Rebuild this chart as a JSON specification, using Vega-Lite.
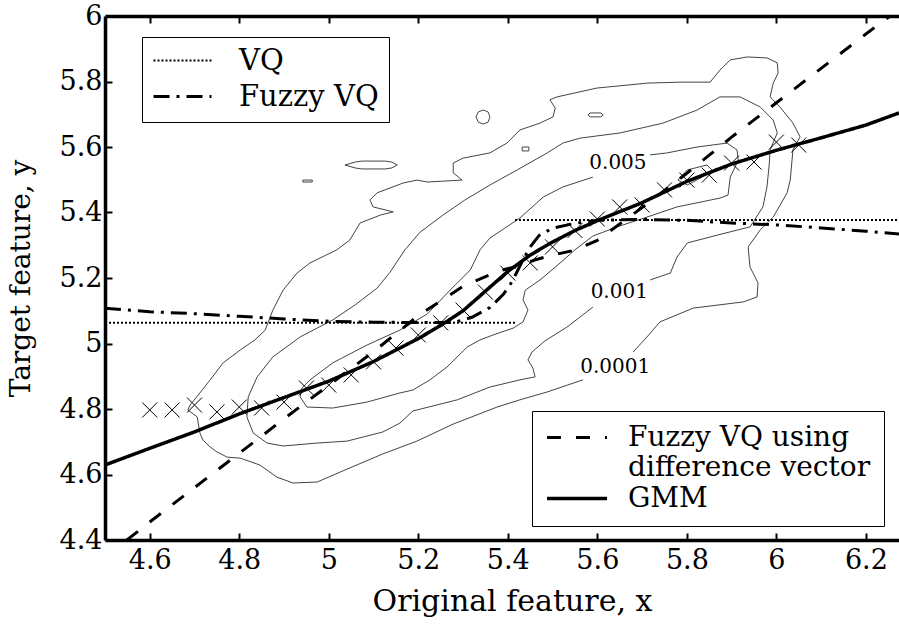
{
"$schema": "https://vega.github.io/schema/vega-lite/v6.json",
"width": 794, "height": 524,
"autosize": "none",
"padding": {"left": 105, "top": 16, "right": 0, "bottom": 84},
"background": "white",
"config": {
  "view": {"stroke": null},
  "font": "DejaVu Serif",
  "axis": {"domainColor": "black", "domainWidth": 3.5, "tickColor": "black", "tickWidth": 2, "tickSize": -7, "labelFont": "DejaVu Serif", "labelFontSize": 27, "labelColor": "black", "titleFont": "DejaVu Serif", "titleFontSize": 28, "titleFontWeight": "normal", "titleColor": "black", "grid": false, "labelFlush": false, "labelOverlap": false, "format": ".1~f"},
  "axisBottom": {"labelPadding": 14, "titlePadding": 13, "titleFontSize": 30},
  "axisLeft": {"labelPadding": 10, "titlePadding": 24}
},
"datasets": {
  "contours": [
    {"c":"o","o":1,"x":5.680,"y":4.974},{"c":"o","o":2,"x":5.711,"y":5.020},{"c":"o","o":3,"x":5.740,"y":5.066},{"c":"o","o":4,"x":5.814,"y":5.108},{"c":"o","o":5,"x":5.926,"y":5.127},{"c":"o","o":6,"x":5.957,"y":5.142},{"c":"o","o":7,"x":5.959,"y":5.185},{"c":"o","o":8,"x":5.941,"y":5.234},{"c":"o","o":9,"x":5.937,"y":5.295},{"c":"o","o":10,"x":5.964,"y":5.347},{"c":"o","o":11,"x":5.993,"y":5.386},{"c":"o","o":12,"x":6.024,"y":5.460},{"c":"o","o":13,"x":6.031,"y":5.499},{"c":"o","o":14,"x":6.037,"y":5.591},{"c":"o","o":15,"x":6.053,"y":5.631},{"c":"o","o":16,"x":6.037,"y":5.673},{"c":"o","o":17,"x":6.008,"y":5.722},{"c":"o","o":18,"x":5.986,"y":5.753},{"c":"o","o":19,"x":5.993,"y":5.795},{"c":"o","o":20,"x":6.004,"y":5.826},{"c":"o","o":21,"x":6.002,"y":5.857},{"c":"o","o":22,"x":5.979,"y":5.872},{"c":"o","o":23,"x":5.935,"y":5.875},{"c":"o","o":24,"x":5.897,"y":5.866},{"c":"o","o":25,"x":5.874,"y":5.835},{"c":"o","o":26,"x":5.852,"y":5.798},{"c":"o","o":27,"x":5.785,"y":5.798},{"c":"o","o":28,"x":5.711,"y":5.795},{"c":"o","o":29,"x":5.599,"y":5.780},{"c":"o","o":30,"x":5.510,"y":5.753},{"c":"o","o":31,"x":5.494,"y":5.744},{"c":"o","o":32,"x":5.506,"y":5.719},{"c":"o","o":33,"x":5.501,"y":5.692},{"c":"o","o":34,"x":5.472,"y":5.673},{"c":"o","o":35,"x":5.427,"y":5.652},{"c":"o","o":36,"x":5.398,"y":5.612},{"c":"o","o":37,"x":5.360,"y":5.582},{"c":"o","o":38,"x":5.300,"y":5.566},{"c":"o","o":39,"x":5.278,"y":5.551},{"c":"o","o":40,"x":5.278,"y":5.521},{"c":"o","o":41,"x":5.298,"y":5.499},{"c":"o","o":42,"x":5.220,"y":5.493},{"c":"o","o":43,"x":5.197,"y":5.499},{"c":"o","o":44,"x":5.166,"y":5.490},{"c":"o","o":45,"x":5.108,"y":5.460},{"c":"o","o":46,"x":5.092,"y":5.438},{"c":"o","o":47,"x":5.099,"y":5.417},{"c":"o","o":48,"x":5.144,"y":5.402},{"c":"o","o":49,"x":5.115,"y":5.392},{"c":"o","o":50,"x":5.070,"y":5.368},{"c":"o","o":51,"x":5.047,"y":5.316},{"c":"o","o":52,"x":5.018,"y":5.286},{"c":"o","o":53,"x":4.958,"y":5.246},{"c":"o","o":54,"x":4.929,"y":5.215},{"c":"o","o":55,"x":4.898,"y":5.163},{"c":"o","o":56,"x":4.875,"y":5.102},{"c":"o","o":57,"x":4.858,"y":5.041},{"c":"o","o":58,"x":4.835,"y":5.011},{"c":"o","o":59,"x":4.802,"y":4.980},{"c":"o","o":60,"x":4.764,"y":4.941},{"c":"o","o":61,"x":4.735,"y":4.889},{"c":"o","o":62,"x":4.712,"y":4.849},{"c":"o","o":63,"x":4.690,"y":4.812},{"c":"o","o":64,"x":4.685,"y":4.797},{"c":"o","o":65,"x":4.706,"y":4.776},{"c":"o","o":66,"x":4.712,"y":4.727},{"c":"o","o":67,"x":4.719,"y":4.705},{"c":"o","o":68,"x":4.735,"y":4.684},{"c":"o","o":69,"x":4.750,"y":4.669},{"c":"o","o":70,"x":4.773,"y":4.653},{"c":"o","o":71,"x":4.802,"y":4.650},{"c":"o","o":72,"x":4.846,"y":4.629},{"c":"o","o":73,"x":4.884,"y":4.592},{"c":"o","o":74,"x":4.920,"y":4.574},{"c":"o","o":75,"x":4.974,"y":4.577},{"c":"o","o":76,"x":5.047,"y":4.620},{"c":"o","o":77,"x":5.121,"y":4.663},{"c":"o","o":78,"x":5.197,"y":4.702},{"c":"o","o":79,"x":5.278,"y":4.754},{"c":"o","o":80,"x":5.376,"y":4.806},{"c":"o","o":81,"x":5.427,"y":4.828},{"c":"o","o":82,"x":5.488,"y":4.852},{"c":"o","o":83,"x":5.546,"y":4.879},{"c":"o","o":84,"x":5.568,"y":4.889},
    {"c":"m","o":1,"x":5.718,"y":5.194},{"c":"m","o":2,"x":5.763,"y":5.215},{"c":"m","o":3,"x":5.778,"y":5.264},{"c":"m","o":4,"x":5.801,"y":5.307},{"c":"m","o":5,"x":5.868,"y":5.331},{"c":"m","o":6,"x":5.941,"y":5.356},{"c":"m","o":7,"x":5.970,"y":5.417},{"c":"m","o":8,"x":5.979,"y":5.478},{"c":"m","o":9,"x":5.984,"y":5.545},{"c":"m","o":10,"x":5.986,"y":5.591},{"c":"m","o":11,"x":6.002,"y":5.643},{"c":"m","o":12,"x":5.993,"y":5.682},{"c":"m","o":13,"x":5.964,"y":5.722},{"c":"m","o":14,"x":5.919,"y":5.753},{"c":"m","o":15,"x":5.874,"y":5.753},{"c":"m","o":16,"x":5.823,"y":5.713},{"c":"m","o":17,"x":5.747,"y":5.673},{"c":"m","o":18,"x":5.651,"y":5.643},{"c":"m","o":19,"x":5.561,"y":5.627},{"c":"m","o":20,"x":5.523,"y":5.612},{"c":"m","o":21,"x":5.488,"y":5.582},{"c":"m","o":22,"x":5.421,"y":5.530},{"c":"m","o":23,"x":5.360,"y":5.484},{"c":"m","o":24,"x":5.304,"y":5.438},{"c":"m","o":25,"x":5.255,"y":5.392},{"c":"m","o":26,"x":5.204,"y":5.340},{"c":"m","o":27,"x":5.170,"y":5.286},{"c":"m","o":28,"x":5.137,"y":5.218},{"c":"m","o":29,"x":5.108,"y":5.169},{"c":"m","o":30,"x":5.059,"y":5.118},{"c":"m","o":31,"x":5.009,"y":5.072},{"c":"m","o":32,"x":4.936,"y":5.020},{"c":"m","o":33,"x":4.875,"y":4.959},{"c":"m","o":34,"x":4.840,"y":4.898},{"c":"m","o":35,"x":4.820,"y":4.837},{"c":"m","o":36,"x":4.817,"y":4.776},{"c":"m","o":37,"x":4.831,"y":4.727},{"c":"m","o":38,"x":4.862,"y":4.696},{"c":"m","o":39,"x":4.898,"y":4.687},{"c":"m","o":40,"x":4.974,"y":4.696},{"c":"m","o":41,"x":5.041,"y":4.702},{"c":"m","o":42,"x":5.121,"y":4.730},{"c":"m","o":43,"x":5.159,"y":4.757},{"c":"m","o":44,"x":5.188,"y":4.794},{"c":"m","o":45,"x":5.287,"y":4.828},{"c":"m","o":46,"x":5.360,"y":4.867},{"c":"m","o":47,"x":5.427,"y":4.889},{"c":"m","o":48,"x":5.461,"y":4.898},{"c":"m","o":49,"x":5.456,"y":4.925},{"c":"m","o":50,"x":5.445,"y":4.950},{"c":"m","o":51,"x":5.454,"y":4.974},{"c":"m","o":52,"x":5.483,"y":5.008},{"c":"m","o":53,"x":5.532,"y":5.050},{"c":"m","o":54,"x":5.590,"y":5.111},
    {"c":"i","o":1,"x":5.718,"y":5.576},{"c":"i","o":2,"x":5.756,"y":5.582},{"c":"i","o":3,"x":5.823,"y":5.600},{"c":"i","o":4,"x":5.890,"y":5.612},{"c":"i","o":5,"x":5.912,"y":5.591},{"c":"i","o":6,"x":5.915,"y":5.560},{"c":"i","o":7,"x":5.897,"y":5.508},{"c":"i","o":8,"x":5.892,"y":5.453},{"c":"i","o":9,"x":5.874,"y":5.444},{"c":"i","o":10,"x":5.778,"y":5.417},{"c":"i","o":11,"x":5.711,"y":5.386},{"c":"i","o":12,"x":5.644,"y":5.356},{"c":"i","o":13,"x":5.590,"y":5.328},{"c":"i","o":14,"x":5.550,"y":5.286},{"c":"i","o":15,"x":5.517,"y":5.246},{"c":"i","o":16,"x":5.472,"y":5.194},{"c":"i","o":17,"x":5.439,"y":5.163},{"c":"i","o":18,"x":5.434,"y":5.133},{"c":"i","o":19,"x":5.445,"y":5.102},{"c":"i","o":20,"x":5.434,"y":5.066},{"c":"i","o":21,"x":5.412,"y":5.047},{"c":"i","o":22,"x":5.367,"y":5.026},{"c":"i","o":23,"x":5.338,"y":5.011},{"c":"i","o":24,"x":5.309,"y":4.989},{"c":"i","o":25,"x":5.264,"y":4.928},{"c":"i","o":26,"x":5.226,"y":4.889},{"c":"i","o":27,"x":5.188,"y":4.858},{"c":"i","o":28,"x":5.159,"y":4.849},{"c":"i","o":29,"x":5.085,"y":4.821},{"c":"i","o":30,"x":5.009,"y":4.803},{"c":"i","o":31,"x":4.951,"y":4.806},{"c":"i","o":32,"x":4.936,"y":4.837},{"c":"i","o":33,"x":4.940,"y":4.864},{"c":"i","o":34,"x":4.958,"y":4.889},{"c":"i","o":35,"x":5.009,"y":4.941},{"c":"i","o":36,"x":5.085,"y":4.995},{"c":"i","o":37,"x":5.159,"y":5.041},{"c":"i","o":38,"x":5.220,"y":5.090},{"c":"i","o":39,"x":5.271,"y":5.163},{"c":"i","o":40,"x":5.316,"y":5.224},{"c":"i","o":41,"x":5.338,"y":5.286},{"c":"i","o":42,"x":5.360,"y":5.322},{"c":"i","o":43,"x":5.427,"y":5.383},{"c":"i","o":44,"x":5.479,"y":5.447},{"c":"i","o":45,"x":5.523,"y":5.478},{"c":"i","o":46,"x":5.590,"y":5.508},
    {"c":"a","o":1,"x":5.329,"y":5.692},{"c":"a","o":2,"x":5.334,"y":5.707},{"c":"a","o":3,"x":5.345,"y":5.713},{"c":"a","o":4,"x":5.356,"y":5.707},{"c":"a","o":5,"x":5.360,"y":5.692},{"c":"a","o":6,"x":5.356,"y":5.676},{"c":"a","o":7,"x":5.345,"y":5.670},{"c":"a","o":8,"x":5.334,"y":5.676},{"c":"a","o":9,"x":5.329,"y":5.692},
    {"c":"b","o":1,"x":5.579,"y":5.698},{"c":"b","o":2,"x":5.584,"y":5.704},{"c":"b","o":3,"x":5.608,"y":5.704},{"c":"b","o":4,"x":5.613,"y":5.698},{"c":"b","o":5,"x":5.608,"y":5.692},{"c":"b","o":6,"x":5.584,"y":5.692},{"c":"b","o":7,"x":5.579,"y":5.698},
    {"c":"d","o":1,"x":5.432,"y":5.600},{"c":"d","o":2,"x":5.447,"y":5.600},{"c":"d","o":3,"x":5.447,"y":5.588},{"c":"d","o":4,"x":5.432,"y":5.588},{"c":"d","o":5,"x":5.432,"y":5.600},
    {"c":"e","o":1,"x":5.036,"y":5.545},{"c":"e","o":2,"x":5.059,"y":5.554},{"c":"e","o":3,"x":5.074,"y":5.557},{"c":"e","o":4,"x":5.126,"y":5.557},{"c":"e","o":5,"x":5.141,"y":5.554},{"c":"e","o":6,"x":5.153,"y":5.545},{"c":"e","o":7,"x":5.141,"y":5.536},{"c":"e","o":8,"x":5.126,"y":5.533},{"c":"e","o":9,"x":5.074,"y":5.533},{"c":"e","o":10,"x":5.059,"y":5.536},{"c":"e","o":11,"x":5.036,"y":5.545},
    {"c":"f","o":1,"x":4.942,"y":5.499},{"c":"f","o":2,"x":4.963,"y":5.499},{"c":"f","o":3,"x":4.963,"y":5.493},{"c":"f","o":4,"x":4.942,"y":5.493},{"c":"f","o":5,"x":4.942,"y":5.499},
    {"c":"g","o":1,"x":5.780,"y":5.499},{"c":"g","o":2,"x":5.801,"y":5.530},{"c":"g","o":3,"x":5.845,"y":5.545},{"c":"g","o":4,"x":5.856,"y":5.530},{"c":"g","o":5,"x":5.830,"y":5.505},{"c":"g","o":6,"x":5.801,"y":5.484},{"c":"g","o":7,"x":5.780,"y":5.499}
  ],
  "labels": [
    {"x":5.646,"y":5.551,"t":"0.005"},
    {"x":5.649,"y":5.157,"t":"0.001"},
    {"x":5.640,"y":4.928,"t":"0.0001"}
  ],
  "vq": [
    {"s":"VQ","seg":1,"x":4.5,"y":5.063},{"s":"VQ","seg":1,"x":5.42,"y":5.063},
    {"s":"VQ","seg":2,"x":5.416,"y":5.377},{"s":"VQ","seg":2,"x":6.274,"y":5.377},
    {"s":"Fuzzy VQ","seg":3,"x":4.5,"y":5.108},{"s":"Fuzzy VQ","seg":3,"x":4.6,"y":5.097},{"s":"Fuzzy VQ","seg":3,"x":4.7,"y":5.091},{"s":"Fuzzy VQ","seg":3,"x":4.8,"y":5.083},{"s":"Fuzzy VQ","seg":3,"x":4.9,"y":5.075},{"s":"Fuzzy VQ","seg":3,"x":5.0,"y":5.068},{"s":"Fuzzy VQ","seg":3,"x":5.1,"y":5.065},{"s":"Fuzzy VQ","seg":3,"x":5.2,"y":5.064},{"s":"Fuzzy VQ","seg":3,"x":5.28,"y":5.064},{"s":"Fuzzy VQ","seg":3,"x":5.32,"y":5.08},{"s":"Fuzzy VQ","seg":3,"x":5.36,"y":5.11},{"s":"Fuzzy VQ","seg":3,"x":5.39,"y":5.15},{"s":"Fuzzy VQ","seg":3,"x":5.41,"y":5.19},{"s":"Fuzzy VQ","seg":3,"x":5.43,"y":5.245},{"s":"Fuzzy VQ","seg":3,"x":5.45,"y":5.295},{"s":"Fuzzy VQ","seg":3,"x":5.47,"y":5.33},{"s":"Fuzzy VQ","seg":3,"x":5.5,"y":5.352},{"s":"Fuzzy VQ","seg":3,"x":5.55,"y":5.367},{"s":"Fuzzy VQ","seg":3,"x":5.6,"y":5.376},{"s":"Fuzzy VQ","seg":3,"x":5.7,"y":5.379},{"s":"Fuzzy VQ","seg":3,"x":5.8,"y":5.376},{"s":"Fuzzy VQ","seg":3,"x":5.9,"y":5.368},{"s":"Fuzzy VQ","seg":3,"x":6.0,"y":5.362},{"s":"Fuzzy VQ","seg":3,"x":6.1,"y":5.353},{"s":"Fuzzy VQ","seg":3,"x":6.2,"y":5.343},{"s":"Fuzzy VQ","seg":3,"x":6.274,"y":5.334}
  ],
  "gmm": [
    {"s":"Fuzzy VQ using difference vector","x":4.549,"y":4.4},{"s":"Fuzzy VQ using difference vector","x":4.6,"y":4.455},{"s":"Fuzzy VQ using difference vector","x":4.7,"y":4.56},{"s":"Fuzzy VQ using difference vector","x":4.8,"y":4.665},{"s":"Fuzzy VQ using difference vector","x":4.9,"y":4.77},{"s":"Fuzzy VQ using difference vector","x":5.0,"y":4.873},{"s":"Fuzzy VQ using difference vector","x":5.1,"y":4.975},{"s":"Fuzzy VQ using difference vector","x":5.2,"y":5.085},{"s":"Fuzzy VQ using difference vector","x":5.3,"y":5.175},{"s":"Fuzzy VQ using difference vector","x":5.38,"y":5.222},{"s":"Fuzzy VQ using difference vector","x":5.42,"y":5.235},{"s":"Fuzzy VQ using difference vector","x":5.46,"y":5.255},{"s":"Fuzzy VQ using difference vector","x":5.5,"y":5.27},{"s":"Fuzzy VQ using difference vector","x":5.55,"y":5.285},{"s":"Fuzzy VQ using difference vector","x":5.6,"y":5.315},{"s":"Fuzzy VQ using difference vector","x":5.65,"y":5.365},{"s":"Fuzzy VQ using difference vector","x":5.7,"y":5.415},{"s":"Fuzzy VQ using difference vector","x":5.8,"y":5.52},{"s":"Fuzzy VQ using difference vector","x":5.9,"y":5.63},{"s":"Fuzzy VQ using difference vector","x":6.0,"y":5.735},{"s":"Fuzzy VQ using difference vector","x":6.1,"y":5.84},{"s":"Fuzzy VQ using difference vector","x":6.2,"y":5.945},{"s":"Fuzzy VQ using difference vector","x":6.254,"y":6.0},
    {"s":"GMM","x":4.5,"y":4.629},{"s":"GMM","x":4.6,"y":4.68},{"s":"GMM","x":4.7,"y":4.73},{"s":"GMM","x":4.8,"y":4.785},{"s":"GMM","x":4.9,"y":4.835},{"s":"GMM","x":5.0,"y":4.885},{"s":"GMM","x":5.1,"y":4.945},{"s":"GMM","x":5.2,"y":5.015},{"s":"GMM","x":5.25,"y":5.055},{"s":"GMM","x":5.3,"y":5.1},{"s":"GMM","x":5.35,"y":5.16},{"s":"GMM","x":5.4,"y":5.22},{"s":"GMM","x":5.45,"y":5.27},{"s":"GMM","x":5.5,"y":5.31},{"s":"GMM","x":5.55,"y":5.345},{"s":"GMM","x":5.6,"y":5.375},{"s":"GMM","x":5.7,"y":5.43},{"s":"GMM","x":5.8,"y":5.495},{"s":"GMM","x":5.9,"y":5.548},{"s":"GMM","x":6.0,"y":5.59},{"s":"GMM","x":6.1,"y":5.628},{"s":"GMM","x":6.2,"y":5.667},{"s":"GMM","x":6.274,"y":5.704}
  ],
  "crosses": [
    {"x":4.60,"y":4.797},{"x":4.65,"y":4.797},{"x":4.70,"y":4.812},{"x":4.75,"y":4.791},{"x":4.80,"y":4.806},{"x":4.85,"y":4.803},{"x":4.90,"y":4.821},{"x":4.95,"y":4.864},{"x":5.00,"y":4.873},{"x":5.05,"y":4.904},{"x":5.10,"y":4.944},{"x":5.15,"y":4.986},{"x":5.20,"y":5.026},{"x":5.25,"y":5.063},{"x":5.30,"y":5.102},{"x":5.35,"y":5.157},{"x":5.40,"y":5.215},{"x":5.45,"y":5.246},{"x":5.50,"y":5.295},{"x":5.55,"y":5.345},{"x":5.60,"y":5.38},{"x":5.65,"y":5.417},{"x":5.70,"y":5.423},{"x":5.75,"y":5.469},{"x":5.80,"y":5.499},{"x":5.85,"y":5.514},{"x":5.90,"y":5.551},{"x":5.95,"y":5.554},{"x":6.00,"y":5.615},{"x":6.05,"y":5.606}
  ]
},
"layer": [
  {
    "layer": [
      {
        "data": {"name": "contours"},
        "mark": {"type": "line", "color": "#444444", "strokeWidth": 1, "clip": true},
        "encoding": {
          "x": {"field": "x", "type": "quantitative", "title": "Original feature, x", "scale": {"domain": [4.5, 6.274], "nice": false, "zero": false}, "axis": {"values": [4.6, 4.8, 5, 5.2, 5.4, 5.6, 5.8, 6, 6.2], "title": "Original feature, x", "titleX": 407}},
          "y": {"field": "y", "type": "quantitative", "title": "Target feature, y", "scale": {"domain": [4.4, 6], "nice": false, "zero": false}, "axis": {"values": [4.4, 4.6, 4.8, 5, 5.2, 5.4, 5.6, 5.8, 6], "title": "Target feature, y"}},
          "detail": {"field": "c"},
          "order": {"field": "o", "type": "quantitative"}
        }
      },
      {
        "data": {"name": "labels"},
        "mark": {"type": "text", "font": "DejaVu Serif", "fontSize": 20, "color": "black", "align": "center", "baseline": "middle"},
        "encoding": {
          "x": {"field": "x", "type": "quantitative", "title": "Original feature, x", "scale": {"domain": [4.5, 6.274], "nice": false, "zero": false}},
          "y": {"field": "y", "type": "quantitative", "title": "Target feature, y", "scale": {"domain": [4.4, 6], "nice": false, "zero": false}},
          "text": {"field": "t"}
        }
      },
      {
        "data": {"name": "vq"},
        "mark": {"type": "line", "color": "black", "clip": true},
        "encoding": {
          "x": {"field": "x", "type": "quantitative", "title": "Original feature, x", "scale": {"domain": [4.5, 6.274], "nice": false, "zero": false}},
          "y": {"field": "y", "type": "quantitative", "title": "Target feature, y", "scale": {"domain": [4.4, 6], "nice": false, "zero": false}},
          "detail": {"field": "seg"},
          "strokeWidth": {"field": "s", "type": "nominal", "scale": {"domain": ["VQ", "Fuzzy VQ"], "range": [2, 3]}, "legend": null},
          "strokeDash": {"field": "s", "type": "nominal", "scale": {"domain": ["VQ", "Fuzzy VQ"], "range": [[2, 2], [16, 7, 3, 7]]},
            "legend": {"orient": "none", "legendX": 37, "legendY": 21, "title": null, "symbolType": "stroke", "symbolSize": 3364, "clipHeight": 27, "symbolStrokeWidth": 2.5, "symbolStrokeColor": "black", "labelFont": "DejaVu Serif", "labelFontSize": 29, "labelColor": "black", "labelOffset": 26, "labelLimit": 500, "strokeColor": "black", "fillColor": "white", "padding": 10, "rowPadding": 6}}
        }
      },
      {
        "data": {"name": "gmm"},
        "mark": {"type": "line", "color": "black", "clip": true},
        "encoding": {
          "x": {"field": "x", "type": "quantitative", "title": "Original feature, x", "scale": {"domain": [4.5, 6.274], "nice": false, "zero": false}},
          "y": {"field": "y", "type": "quantitative", "title": "Target feature, y", "scale": {"domain": [4.4, 6], "nice": false, "zero": false}},
          "strokeWidth": {"field": "s", "type": "nominal", "scale": {"domain": ["Fuzzy VQ using difference vector", "GMM"], "range": [3, 3.5]}, "legend": null},
          "strokeDash": {"field": "s", "type": "nominal", "scale": {"domain": ["Fuzzy VQ using difference vector", "GMM"], "range": [[14, 15], [1, 0]]},
            "legend": {"orient": "none", "legendX": 427, "legendY": 395, "title": null, "symbolType": "stroke", "symbolSize": 3600, "clipHeight": 27, "symbolStrokeWidth": 3, "symbolStrokeColor": "black", "labelFont": "DejaVu Serif", "labelFontSize": 28, "labelColor": "black", "labelOffset": 19, "labelLimit": 500, "strokeColor": "black", "fillColor": "white", "padding": 13, "rowPadding": 2,
              "labelExpr": "datum.label == 'Fuzzy VQ using difference vector' ? ['Fuzzy VQ using', 'difference vector'] : datum.label"}}
        }
      }
    ],
    "resolve": {"scale": {"strokeDash": "independent", "strokeWidth": "independent"}}
  },
  {
    "data": {"name": "crosses"},
    "mark": {"type": "point", "shape": "M-1,-1L1,1M1,-1L-1,1", "size": 225, "filled": false, "stroke": "black", "strokeWidth": 1, "opacity": 1},
    "encoding": {
      "x": {"field": "x", "type": "quantitative", "title": "Original feature, x", "scale": {"domain": [4.5, 6.274], "nice": false, "zero": false}, "axis": {"orient": "top", "labels": false, "title": null, "values": [4.6, 4.8, 5, 5.2, 5.4, 5.6, 5.8, 6, 6.2]}},
      "y": {"field": "y", "type": "quantitative", "title": "Target feature, y", "scale": {"domain": [4.4, 6], "nice": false, "zero": false}}
    }
  }
],
"resolve": {"axis": {"x": "independent"}}
}
